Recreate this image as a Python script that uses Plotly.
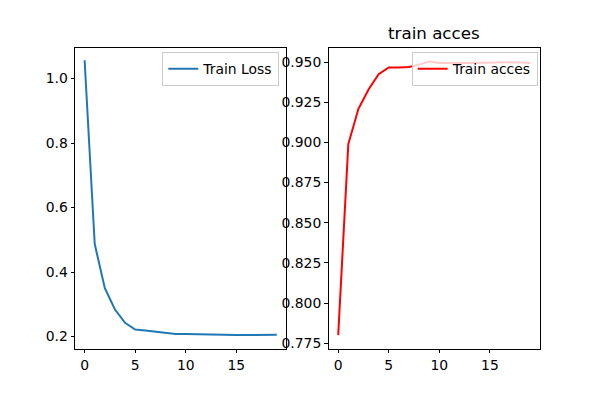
import plotly.graph_objects as go

epochs = list(range(20))
train_loss = [1.057, 0.487, 0.350, 0.284, 0.243, 0.222, 0.219, 0.215, 0.211, 0.208,
              0.208, 0.207, 0.206, 0.205, 0.204, 0.205, 0.205, 0.206, 0.206, 0.206]
train_acc = [0.780, 0.899, 0.921, 0.933, 0.9425, 0.9467, 0.9467, 0.947, 0.9485, 0.9505,
             0.9495, 0.9493, 0.9495, 0.9495, 0.9497, 0.9495, 0.9497, 0.9499, 0.9498, 0.9495]
x_ticks = [0, 5, 10, 15]
title_right = "train acces"

W, H = 600, 400
FONT = "DejaVu Sans"
fs = 13.9

fig = go.Figure()
fig.add_trace(go.Scatter(x=epochs, y=train_loss, mode="lines", name="Train Loss",
                         line=dict(color="#1f77b4", width=2), xaxis="x", yaxis="y",
                         legend="legend", showlegend=True))
fig.add_trace(go.Scatter(x=epochs, y=train_acc, mode="lines", name="Train acces",
                         line=dict(color="red", width=2), xaxis="x2", yaxis="y2",
                         legend="legend2", showlegend=True))

ax_common = dict(showgrid=False, zeroline=False, showline=True, linecolor="black",
                 linewidth=1, mirror=True, ticks="outside", ticklen=3.5, tickwidth=1,
                 tickcolor="black", tickfont=dict(family=FONT, size=fs, color="black"))

ydom = [(H - 350.5) / H, (H - 48) / H]
leg_common = dict(yanchor="top", xanchor="right", bgcolor="rgba(255,255,255,0.8)",
                  bordercolor="#cccccc", borderwidth=1, visible=True,
                  font=dict(family=FONT, size=fs, color="black"))
fig.update_layout(
    width=W, height=H, margin=dict(l=0, r=0, t=0, b=0),
    plot_bgcolor="white", paper_bgcolor="white", showlegend=True,
    font=dict(family=FONT, size=fs, color="black"),
    xaxis=dict(domain=[75 / W, 286.4 / W], range=[-0.95, 19.95], tickvals=x_ticks,
               anchor="y", **ax_common),
    yaxis=dict(domain=ydom, range=[0.1624, 1.0957], dtick=0.2, tick0=0,
               tickformat=".1f", anchor="x", **ax_common),
    xaxis2=dict(domain=[328.6 / W, 540 / W], range=[-0.95, 19.95], tickvals=x_ticks,
                anchor="y2", **ax_common),
    yaxis2=dict(domain=ydom, range=[0.7715, 0.959], dtick=0.025, tick0=0,
                tickformat=".3f", anchor="x2", **ax_common),
    legend=dict(x=279.3 / W, y=1 - 52.5 / H, **leg_common),
    legend2=dict(x=537.7 / W, y=1 - 52.5 / H, **leg_common),
    annotations=[dict(text=title_right, x=434.3 / W, y=1 - 33.5 / H, xref="paper",
                      yref="paper", xanchor="center", yanchor="middle", showarrow=False,
                      font=dict(family=FONT, size=16.7, color="black"))],
)

fig.write_html("out.html", config={"displayModeBar": False},
               post_script="document.body.style.margin='0px';")
